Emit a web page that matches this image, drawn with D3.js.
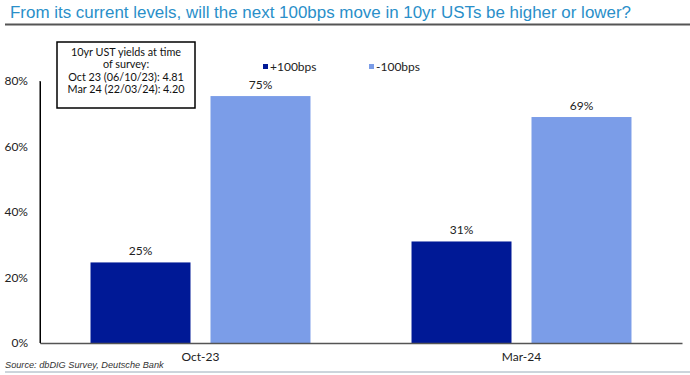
<!DOCTYPE html>
<html><head><meta charset="utf-8">
<script src="https://cdn.jsdelivr.net/npm/d3@7"></script>
<style>body{margin:0;background:#fff}svg{display:block}</style>
</head><body>
<script>
const categories = ["Oct-23", "Mar-24"];
const seriesNames = ["+100bps", "-100bps"];
const plus100 = [24.6, 31];
const minus100 = [75.4, 69];
const yTicks = [0, 20, 40, 60, 80];
const noteLines = ["10yr UST yields at time", "of survey:", "Oct 23 (06/10/23): 4.81", "Mar 24 (22/03/24): 4.20"];
const title = "From its current levels, will the next 100bps move in 10yr USTs be higher or lower?";
const source = "Source: dbDIG Survey, Deutsche Bank";

const W = 690, H = 375;
const colors = ["#001996", "#7b9de8"];
const svg = d3.select("body").append("svg").attr("width", W).attr("height", H);

svg.append("text").attr("x", 10).attr("y", 18).attr("fill", "#2a8fc9")
  .attr("font-family", "Liberation Sans, Arial, sans-serif").attr("font-size", 16)
  .attr("textLength", 621).attr("lengthAdjust", "spacingAndGlyphs").text(title);
svg.append("line").attr("x1", 5).attr("x2", 690).attr("y1", 24.5).attr("y2", 24.5)
  .attr("stroke", "#555").attr("stroke-width", 2);

const x0 = d3.scaleBand().domain(categories).range([40, 682]);
const x1 = d3.scaleBand().domain(seriesNames).range([0, x0.bandwidth()]).paddingInner(0.1667).paddingOuter(0.421);
const y = d3.scaleLinear().domain([0, 80]).range([343, 81]);

const font = "Lato, Carlito, sans-serif";
// y axis
const yAxis = svg.append("g").attr("transform", "translate(40,0)")
  .call(d3.axisLeft(y).tickValues(yTicks).tickSize(0).tickPadding(12).tickFormat(d => d + "%"));
yAxis.select(".domain").attr("stroke", "#000").attr("stroke-width", 1);
yAxis.selectAll("text").attr("font-family", font).attr("font-size", 12).attr("fill", "#222");

const data = categories.map((c, i) => ({cat: c, vals: [plus100[i], minus100[i]]}));
const g = svg.append("g");
data.forEach(d => {
  d.vals.forEach((v, j) => {
    const bx = x0(d.cat) + x1(seriesNames[j]);
    g.append("rect").attr("x", bx).attr("y", y(v)).attr("width", x1.bandwidth())
      .attr("height", y(0) - y(v)).attr("fill", colors[j]);
    g.append("text").attr("x", bx + x1.bandwidth() / 2).attr("y", y(v) - 7)
      .attr("text-anchor", "middle").attr("font-family", font).attr("font-size", 12)
      .attr("fill", "#222").text(Math.round(v) + "%");
  });
});

// x axis
const xAxis = svg.append("g").attr("transform", "translate(0,343)")
  .call(d3.axisBottom(x0).tickSize(0).tickPadding(9));
xAxis.select(".domain").attr("stroke", "#555").attr("stroke-width", 1.5);
xAxis.selectAll("text").attr("font-family", font).attr("font-size", 12).attr("fill", "#222");
svg.append("line").attr("x1", 40).attr("x2", 40).attr("y1", 343).attr("y2", 81).attr("stroke", "#000");

// legend
const legX = [263, 369];
seriesNames.forEach((s, j) => {
  svg.append("rect").attr("x", legX[j]).attr("y", 64).attr("width", 5).attr("height", 5).attr("fill", colors[j]);
  svg.append("text").attr("x", legX[j] + 7).attr("y", 70.5).attr("font-family", font)
    .attr("font-size", 12).attr("fill", "#222").text(s);
});

// note box
svg.append("rect").attr("x", 57).attr("y", 42).attr("width", 138).attr("height", 66)
  .attr("fill", "#fff").attr("stroke", "#000").attr("stroke-width", 1.5);
noteLines.forEach((t, i) => {
  svg.append("text").attr("x", 126).attr("y", 56 + i * 12.3).attr("text-anchor", "middle")
    .attr("font-family", font).attr("font-size", 10.8).attr("fill", "#111").text(t);
});

// source
svg.append("text").attr("x", 5).attr("y", 368).attr("font-family", "Liberation Sans, Arial, sans-serif")
  .attr("font-style", "italic").attr("font-size", 9.2).attr("fill", "#333").text(source);
svg.append("line").attr("x1", 5).attr("x2", 690).attr("y1", 372).attr("y2", 372)
  .attr("stroke", "#9aaab8").attr("stroke-width", 1);
</script>
</body></html>
